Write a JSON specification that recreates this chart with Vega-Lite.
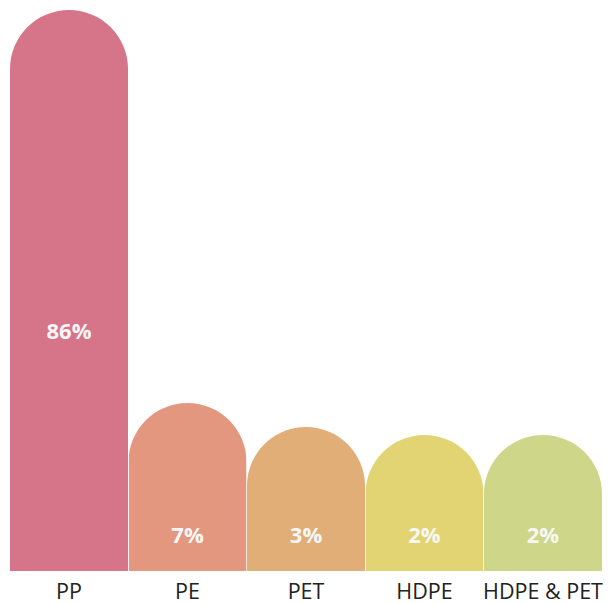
{
  "$schema": "https://vega.github.io/schema/vega-lite/v6.json",
  "width": 592,
  "height": 571,
  "autosize": "none",
  "padding": {"left": 10, "top": 0, "right": 8, "bottom": 33},
  "background": "white",
  "config": {"view": {"stroke": null}},
  "data": {
    "values": [
      {"material": "PP", "share": 86, "label": "86%"},
      {"material": "PE", "share": 7, "label": "7%"},
      {"material": "PET", "share": 3, "label": "3%"},
      {"material": "HDPE", "share": 2, "label": "2%"},
      {"material": "HDPE & PET", "share": 2, "label": "2%"}
    ]
  },
  "encoding": {
    "x": {
      "field": "material",
      "type": "nominal",
      "sort": null,
      "scale": {"paddingInner": 0.004, "paddingOuter": 0},
      "axis": {
        "title": null,
        "labelAngle": 0,
        "domain": false,
        "ticks": false,
        "labelPadding": 10,
        "labelFont": "Open Sans",
        "labelFontSize": 21.5,
        "labelColor": "#222222"
      }
    }
  },
  "layer": [
    {
      "mark": {"type": "bar", "cornerRadiusTopLeft": 59, "cornerRadiusTopRight": 59},
      "encoding": {
        "y": {
          "field": "share",
          "type": "quantitative",
          "scale": {"domain": [0, 2, 3, 7, 86], "range": [571, 435, 427, 403, 10], "zero": false, "nice": false},
          "axis": null
        },
        "color": {
          "field": "material",
          "type": "nominal",
          "sort": null,
          "scale": {
            "domain": ["PP", "PE", "PET", "HDPE", "HDPE & PET"],
            "range": ["#d67589", "#e4977f", "#e1ae78", "#e2d373", "#cdd689"]
          },
          "legend": null
        }
      }
    },
    {
      "mark": {"type": "text", "font": "Open Sans", "fontWeight": "bold", "fontSize": 22, "color": "#f7f7f7", "baseline": "middle"},
      "encoding": {
        "y": {
          "field": "share",
          "type": "quantitative",
          "scale": {"domain": [0, 2, 3, 7, 86], "range": [536, 536, 536, 536, 332], "zero": false, "nice": false},
          "axis": null
        },
        "text": {"field": "label"}
      }
    }
  ],
  "resolve": {"scale": {"y": "independent"}}
}
